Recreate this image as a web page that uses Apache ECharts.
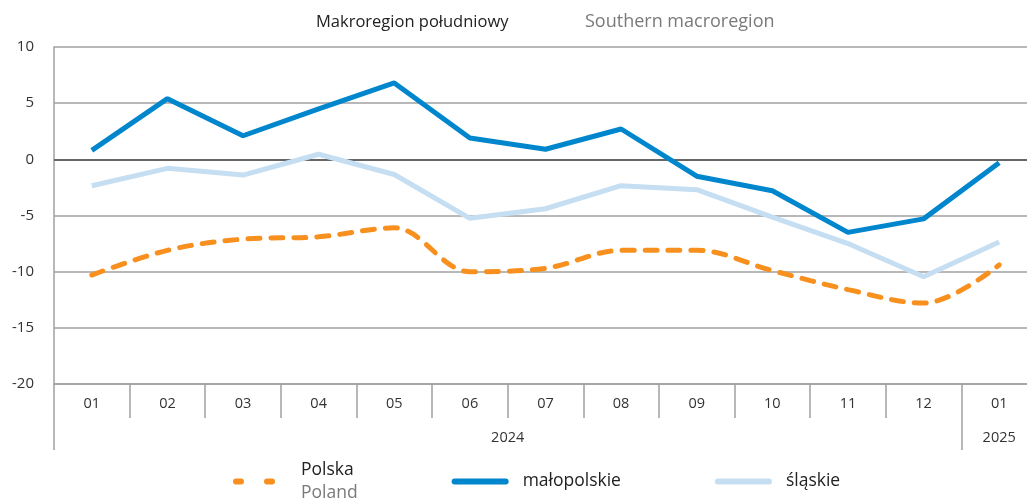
<!DOCTYPE html>
<html>
<head>
<meta charset="utf-8">
<script src="https://cdn.jsdelivr.net/npm/echarts@6/dist/echarts.min.js"></script>
<style>
  html, body { margin: 0; padding: 0; background: #fff; }
  #chart { width: 1027px; height: 498px; }
</style>
</head>
<body>
<div id="chart"></div>
<script>
// miesiące (kategorie)
const months = ['01', '02', '03', '04', '05', '06', '07', '08', '09', '10', '11', '12', '01'];
// lata i liczba miesięcy w każdym roku
const years = ['2024', '2025'];
const yearMonths = [12, 1];
// wartości serii
const polska = [-10.3, -8.1, -7.1, -6.9, -6.1, -10.0, -9.7, -8.1, -8.1, -9.9, -11.6, -12.8, -9.4];
const malopolskie = [0.8, 5.4, 2.1, 4.5, 6.8, 1.9, 0.9, 2.7, -1.5, -2.8, -6.5, -5.3, -0.3];
const slaskie = [-2.35, -0.8, -1.4, 0.45, -1.35, -5.25, -4.4, -2.35, -2.7, -5.15, -7.5, -10.45, -7.35];

// granice i środki grup lat na osi pomocniczej
const yearEdges = [0];
const yearCenters = [];
yearMonths.forEach((n, i) => {
    const start = yearEdges[i];
    yearEdges.push(start + n);
    yearCenters.push(start + n / 2);
});

const FONT = 'Open Sans';
const GRAY = '#a0a0a0';
const chart = echarts.init(document.getElementById('chart'));

chart.setOption({
    animation: false,
    textStyle: { fontFamily: FONT },
    title: [
        {
            left: 311,
            top: 9,
            text: 'Makroregion południowy',
            textStyle: { fontFamily: FONT, fontSize: 16.5, fontWeight: 'normal', color: '#222' }
        },
        {
            left: 580,
            top: 8,
            text: 'Southern macroregion',
            textStyle: { fontFamily: FONT, fontSize: 18, fontWeight: 'normal', color: '#7a7a7a' }
        }
    ],
    legend: {
        left: 228,
        top: 456,
        itemWidth: 51,
        itemHeight: 7,
        itemGap: 94,
        itemStyle: { opacity: 0 },
        lineStyle: { width: 6, cap: 'round' },
        textStyle: { fontFamily: FONT, fontSize: 17.5, color: '#222', padding: [0, 0, 0, 12] },
        data: [
            {
                name: 'Polska',
                lineStyle: { width: 6, cap: 'round', type: [5, 26] },
                textStyle: {
                    padding: [0, 0, 0, 9],
                    rich: {
                        a: { fontFamily: FONT, fontSize: 17.5, color: '#222', lineHeight: 23 },
                        b: { fontFamily: FONT, fontSize: 17.5, color: '#7a7a7a', lineHeight: 23 }
                    }
                }
            },
            { name: 'małopolskie' },
            { name: 'śląskie' }
        ],
        formatter: name => name === 'Polska' ? '{a|Polska}\n{b|Poland}' : name
    },
    grid: {
        left: 54,
        top: 47,
        width: 983,
        bottom: 114,
        outerBoundsMode: 'none'
    },
    xAxis: [
        {
            type: 'category',
            data: months,
            boundaryGap: true,
            axisLine: { show: true, onZero: false, lineStyle: { color: GRAY, width: 1.5 } },
            axisTick: { show: true, interval: 0, length: 34, lineStyle: { color: GRAY, width: 1.5 } },
            axisLabel: { interval: 0, margin: 12, fontSize: 14.5, color: '#333', fontFamily: FONT }
        },
        {
            type: 'value',
            min: 0,
            max: months.length,
            position: 'bottom',
            axisLine: { show: false, onZero: false },
            splitLine: { show: false },
            axisTick: {
                show: true,
                customValues: yearEdges.slice(0, -1),
                length: 66,
                lineStyle: { color: GRAY, width: 1.5 }
            },
            axisLabel: {
                customValues: yearCenters,
                margin: 46,
                fontSize: 14.5,
                color: '#333',
                fontFamily: FONT,
                formatter: v => years[yearCenters.indexOf(v)] || ''
            }
        }
    ],
    yAxis: {
        type: 'value',
        min: -20,
        max: 10,
        interval: 5,
        axisLine: { show: true, lineStyle: { color: GRAY, width: 1.5 } },
        axisTick: { show: false },
        axisLabel: { margin: 20, fontSize: 15, color: '#333', fontFamily: FONT },
        splitLine: { lineStyle: { color: GRAY, width: 1.5 } }
    },
    series: [
        {
            name: 'Polska',
            type: 'line',
            data: polska,
            smooth: 0.35,
            symbol: 'none',
            z: 3,
            lineStyle: { color: '#f7901e', width: 5, type: [12, 11], cap: 'round' },
            itemStyle: { color: '#f7901e' },
            markLine: {
                silent: true,
                symbol: 'none',
                label: { show: false },
                lineStyle: { color: '#666', width: 2, type: 'solid' },
                data: [{ yAxis: 0 }],
                z: 1
            }
        },
        {
            name: 'małopolskie',
            type: 'line',
            data: malopolskie,
            symbol: 'none',
            z: 4,
            lineStyle: { color: '#0086cd', width: 5 },
            itemStyle: { color: '#0086cd' }
        },
        {
            name: 'śląskie',
            type: 'line',
            data: slaskie,
            symbol: 'none',
            z: 2,
            lineStyle: { color: '#c6def2', width: 5 },
            itemStyle: { color: '#c6def2' }
        }
    ]
});
</script>
</body>
</html>
